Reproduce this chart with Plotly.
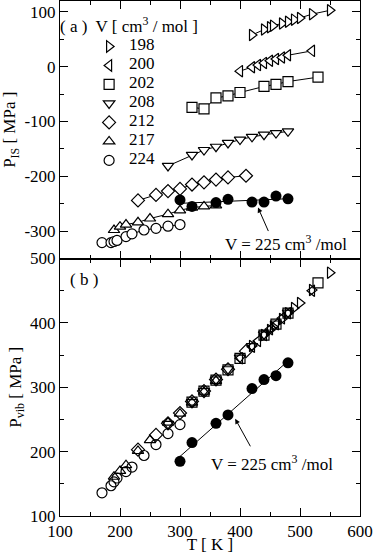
import numpy as np
import plotly.graph_objects as go

# molar volumes [cm3/mol] and their marker symbols
volumes = ["198", "200", "202", "208", "212", "217", "224"]
symbols = ["triangle-right", "triangle-left", "square", "triangle-down",
           "diamond", "triangle-up", "circle"]

# temperatures [K]
T_198 = [420, 440, 450, 455, 470, 480, 490, 500, 520, 550]
T_200 = [400, 420, 430, 440, 450, 460, 470, 480, 520]
T_202 = [320, 340, 360, 380, 400, 440, 460, 480, 530]
T_208 = [280, 320, 340, 360, 380, 400, 420, 440, 460, 480]
T_212 = [230, 260, 280, 300, 320, 340, 360, 380, 410]
T_217 = [190, 200, 210, 230, 250, 280, 300, 320, 340, 360]
T_224 = [170, 185, 190, 195, 210, 220, 240, 260, 280, 300]
T_225 = [300, 320, 360, 380, 420, 440, 460, 480]

# inherent-structure pressure P_IS [MPa]
Pis_198 = [58, 68, 72, 75, 79, 82, 86, 89, 96, 103]
Pis_200 = [-8, -1, 3, 7, 11, 14, 17, 21, 29]
Pis_202 = [-74, -77, -57, -53, -47, -36, -32, -27, -19]
Pis_208 = [-181, -161, -152, -146, -139, -133, -128, -124, -121, -118]
Pis_212 = [-244, -234, -227, -223, -215, -211, -206, -202, -199]
Pis_217 = [-298, -292, -288, -284, -277, -269, -262, -257, -255, -253]
Pis_224 = [-321, -321, -319, -317, -310, -305, -298, -295, -291, -288]
Pis_225 = [-243, -255, -248, -242, -247, -247, -236, -241]

# vibrational pressure P_vib [MPa]
Pvib_198 = [364, 381, 389, 394, 406, 415, 423, 431, 451, 478]
Pvib_200 = [345, 363, 372, 381, 390, 398, 407, 415, 450]
Pvib_202 = [277, 294, 311, 327, 345, 381, 398, 415, 462]
Pvib_208 = [243, 277, 294, 312, 328, 346, 364, 382, 399, 416]
Pvib_212 = [203, 226, 244, 260, 278, 294, 312, 328, 356]
Pvib_217 = [161, 170, 179, 201, 218, 245, 259, 276, 293, 310]
Pvib_224 = [136, 147, 153, 159, 169, 176, 194, 211, 228, 242]
Pvib_225 = [185, 214, 244, 257, 298, 312, 318, 338]

x_ticks = [100, 200, 300, 400, 500, 600]
pis_ticks = [-300, -200, -100, 0, 100]
pis_ticktext = ["-300", "-200", "-100", "0", "100"]
pvib_ticks = [100, 200, 300, 400, 500]

T_all = [T_198, T_200, T_202, T_208, T_212, T_217, T_224]
Pis_all = [Pis_198, Pis_200, Pis_202, Pis_208, Pis_212, Pis_217, Pis_224]
Pvib_all = [Pvib_198, Pvib_200, Pvib_202, Pvib_208, Pvib_212, Pvib_217, Pvib_224]

FONT = "Liberation Serif"
fs = 17

fig = go.Figure()

for name, sym, T, pis, pvib in zip(volumes, symbols, T_all, Pis_all, Pvib_all):
    filled = dict(symbol=sym, size=10, color="white", line=dict(color="black", width=1.2))
    hollow = dict(symbol=sym + "-open", size=10, color="black", line=dict(width=1.2))
    fig.add_trace(go.Scatter(x=T, y=pis, mode="lines+markers", marker=filled,
                             line=dict(color="black", width=1),
                             xaxis="x2", yaxis="y2", showlegend=False))
    fig.add_trace(go.Scatter(x=T, y=pvib, mode="markers", marker=hollow,
                             xaxis="x", yaxis="y", showlegend=False))
    # legend entry (symbol only)
    fig.add_trace(go.Scatter(x=[None], y=[None], mode="markers", marker=filled,
                             name='<span style="font-size:17px">' + name + "</span>",
                             xaxis="x2", yaxis="y2"))

# V = 225 cm3/mol: filled circles with linear fit
T225 = np.array(T_225)
for pvals, xa, ya in [(Pis_225, "x2", "y2"), (Pvib_225, "x", "y")]:
    k, b = np.polyfit(T225, pvals, 1)
    xfit = np.array([T225.min(), T225.max()])
    fig.add_trace(go.Scatter(x=xfit, y=k * xfit + b, mode="lines",
                             line=dict(color="black", width=1),
                             xaxis=xa, yaxis=ya, showlegend=False))
    fig.add_trace(go.Scatter(x=T_225, y=pvals, mode="markers",
                             marker=dict(symbol="circle", size=11, color="black"),
                             xaxis=xa, yaxis=ya, showlegend=False))

axis_style = dict(showline=True, linecolor="black", linewidth=1, mirror="ticks",
                  ticks="inside", ticklen=8, tickwidth=1, tickcolor="black",
                  showgrid=False, zeroline=False, automargin=False,
                  tickfont=dict(family=FONT, size=fs, color="black"),
                  minor=dict(dtick=50, ticks="inside", ticklen=4, tickcolor="black", showgrid=False))

fig.update_layout(
    width=374, height=554,
    margin=dict(l=60, r=14, t=1, b=38),
    plot_bgcolor="white", paper_bgcolor="white",
    font=dict(family=FONT, size=fs, color="black"),
    xaxis=dict(axis_style, domain=[0, 1], range=[100, 600], anchor="y",
               tickvals=x_ticks,
               title=dict(text="T [ K ]", font=dict(family=FONT, size=fs), standoff=0)),
    xaxis2=dict(axis_style, domain=[0, 1], range=[100, 600], anchor="y2",
                tickvals=x_ticks, showticklabels=False),
    yaxis=dict(axis_style, domain=[0, 0.5], range=[100, 500], anchor="x",
               tickvals=pvib_ticks,
               title=dict(text="P<sub>vib</sub> [ MPa ]", font=dict(family=FONT, size=fs), standoff=4)),
    yaxis2=dict(axis_style, domain=[0.5, 1], range=[-350, 120], anchor="x2",
                tickvals=pis_ticks, ticktext=pis_ticktext,
                title=dict(text="P<sub>IS</sub> [ MPa ]", font=dict(family=FONT, size=fs), standoff=4)),
    legend=dict(x=0.097, y=0.94, xanchor="left", yanchor="top",
                bgcolor="rgba(0,0,0,0)", borderwidth=0,
                font=dict(family=FONT, size=10, color="black"),
                tracegroupgap=0),
    showlegend=True,
)

fig.add_annotation(text="( a )  V [ cm<sup>3</sup> / mol ]", xref="x2 domain", yref="y2 domain",
                   x=-0.007, y=0.905, xanchor="left", yanchor="middle", showarrow=False,
                   font=dict(family=FONT, size=fs))
fig.add_annotation(text="( b )", xref="x domain", yref="y domain",
                   x=0.025, y=0.92, xanchor="left", yanchor="middle", showarrow=False,
                   font=dict(family=FONT, size=fs))

# arrows pointing to the V = 225 series
fig.add_annotation(text="", x=430, y=-257, xref="x2", yref="y2", ax=11, ay=25,
                   showarrow=True, arrowhead=2, arrowsize=1, arrowwidth=1, arrowcolor="black",
                   standoff=0, startstandoff=0)
fig.add_annotation(text="V = 225 cm<sup>3</sup> /mol", x=477, y=-321, xref="x2", yref="y2",
                   showarrow=False, font=dict(family=FONT, size=fs))
fig.add_annotation(text="", x=392, y=251, xref="x", yref="y", ax=16, ay=29,
                   showarrow=True, arrowhead=2, arrowsize=1, arrowwidth=1, arrowcolor="black",
                   standoff=0, startstandoff=0)
fig.add_annotation(text="V = 225 cm<sup>3</sup> /mol", x=453, y=182, xref="x", yref="y",
                   showarrow=False, font=dict(family=FONT, size=fs))

fig.write_html("out.html", config={"displayModeBar": False},
               post_script="document.body.style.margin='0';")
